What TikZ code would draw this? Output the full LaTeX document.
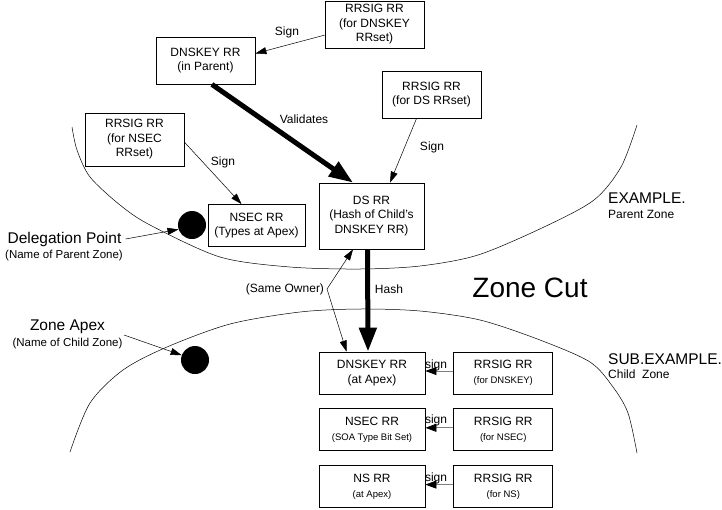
\documentclass[tikz,border=0pt]{standalone}
\usepackage{fontspec}
\setmainfont{Liberation Sans}
\usetikzlibrary{arrows.meta, positioning}
\newcommand{\boxfont}{\fontsize{12}{14.5}\selectfont}
\newcommand{\smallfont}{\fontsize{9.5}{12}\selectfont}
\tikzset{
  rrbox/.style={draw, line width=0.8pt, align=center, inner sep=1pt, font=\boxfont},
  pbox/.style={rrbox, minimum width=99pt, minimum height=47pt},
  cbox/.style={rrbox, minimum width=106pt, minimum height=42pt},
  sigbox/.style={rrbox, minimum width=99pt, minimum height=42pt},
  dot/.style={circle, fill=black, minimum size=28pt, inner sep=0pt},
  lbl/.style={font=\fontsize{12}{14}\selectfont, inner sep=1pt},
  biglbl/.style={font=\fontsize{15.5}{18}\selectfont, inner sep=1pt},
  sublbl/.style={font=\fontsize{11.5}{14}\selectfont, inner sep=1pt},
  zone/.style={line width=0.5pt},
  sarrow/.style={-{Triangle[length=11pt,width=7pt]}, line width=0.5pt},
  karrow/.style={-{Triangle[length=24pt,width=17pt]}, line width=5pt},
  garrow/.style={-{Triangle[length=11pt,width=8pt,black]}, line width=0.7pt, draw=black!50},
}
\begin{document}
\begin{tikzpicture}[x=1pt, y=-1pt]
\useasboundingbox (0,0) rectangle (722,509);
% zone boundaries
\draw[zone] plot[smooth] coordinates {(72,127) (77,150) (90,177) (120,205) (150,225) (220,257) (290,267) (360,269) (420,266) (478,255) (544,227) (594,200) (621,167) (637,125)};
\draw[zone] plot[smooth] coordinates {(70,452) (90,403) (123,370) (167,347) (230,324) (300,312) (360,309) (420,311) (480,320) (540,340) (590,362) (613,387) (628,413) (637,453)};

% parent side
\node[pbox] (keysig) at (374.5,24.5) {RRSIG RR\\(for DNSKEY\\RRset)};
\node[pbox] (parentkey) at (205.5,60.5) {DNSKEY RR\\(in Parent)};
\node[pbox] (dssig) at (431.5,94.5) {RRSIG RR\\(for DS RRset)};
\node[pbox, minimum height=53pt] (nsecsig) at (134.5,139.5) {RRSIG RR\\(for NSEC\\RRset)};
\node[rrbox, minimum width=97pt, minimum height=42pt] (nsec) at (256.5,225.5) {NSEC RR\\(Types at Apex)};
\node[rrbox, minimum width=105pt, minimum height=66pt] (ds) at (371.5,216) {DS RR\\(Hash of Child’s\\DNSKEY RR)};
\node[dot] (delegdot) at (192,225) {};
\node[biglbl] (delegpt) at (64.5,239) {Delegation Point};
\node[sublbl] (delegname) at (64,256) {(Name of Parent Zone)};
\node[biglbl, anchor=west] (parentname) at (607,198) {EXAMPLE.};
\node[lbl, anchor=west] (parentzone) at (607,214) {Parent Zone};

% child side
\node[cbox] (apexkey) at (372,373) {DNSKEY RR\\(at Apex)};
\node[cbox, below=14pt of apexkey] (apexnsec) {NSEC RR\\{\smallfont (SOA Type Bit Set)}};
\node[cbox, below=14pt of apexnsec] (apexns) {NS RR\\{\smallfont (at Apex)}};
\node[sigbox, right=28pt of apexkey] (keysigc) {RRSIG RR\\{\smallfont (for DNSKEY)}};
\node[sigbox, right=28pt of apexnsec] (nsecsigc) {RRSIG RR\\{\smallfont (for NSEC)}};
\node[sigbox, right=28pt of apexns] (nssigc) {RRSIG RR\\{\smallfont (for NS)}};
\node[dot] (apexdot) at (195,360) {};
\node[biglbl] (apexlbl) at (67.5,327) {Zone Apex};
\node[sublbl] (apexname) at (67.5,344) {(Name of Child Zone)};
\node[biglbl, anchor=west] (childname) at (607,359) {SUB.EXAMPLE.};
\node[lbl, anchor=west] (childzone) at (607,374) {Child\ \ Zone};
\node[font=\fontsize{28}{32}\selectfont] (zonecut) at (530,288) {Zone Cut};

% connectors
\draw[sarrow] (keysig.192) -- (parentkey.8);
\node[lbl] (signkey) at (287,32) {Sign};
\draw[karrow] (parentkey.-75) -- (ds.119);
\node[lbl] (validates) at (304,119) {Validates};
\draw[sarrow] (dssig.238) -- (ds.61);
\node[lbl] (signds) at (432,147) {Sign};
\draw[sarrow] (nsecsig.-3) -- (nsec.125);
\node[lbl] (signnsec) at (223,162) {Sign};
\draw[sarrow] ([xshift=3pt]delegpt.east) -- (delegdot.198);
\draw[sarrow] (124,335) -- (apexdot.160);
\draw[karrow] ([xshift=-4pt]ds.south) -- ([xshift=-4pt]apexkey.north);
\node[lbl] (hash) at (389,289) {Hash};
\node[lbl] (sameowner) at (285,289) {(Same Owner)};
\coordinate (owner) at (327,289);
\draw[sarrow] (owner) -- (ds.241);
\draw[sarrow] (owner) -- (apexkey.140);
\foreach \sig/\rr in {keysigc/apexkey, nsecsigc/apexnsec, nssigc/apexns}
  \draw[garrow] ([yshift=2pt]\sig.west) -- ([yshift=2pt]\rr.east);
\node[lbl] (signc1) at (436,365) {sign};
\node[lbl] (signc2) at (436,420) {sign};
\node[lbl] (signc3) at (436,478) {sign};
\end{tikzpicture}
\end{document}
